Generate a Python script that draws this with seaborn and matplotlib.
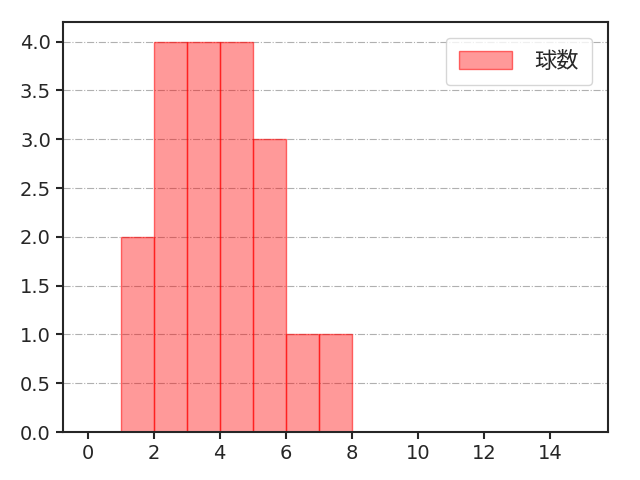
import numpy as np
import pandas as pd
import matplotlib
matplotlib.use("Agg")
import matplotlib.pyplot as plt
import seaborn as sns

sns.set_style("ticks")
plt.rcParams['font.family'] = ['DejaVu Sans', 'Noto Sans CJK JP']

# 球数 (one value per pitch count observation)
pitch_counts = [1, 1, 2, 2, 2, 2, 3, 3, 3, 3, 4, 4, 4, 4, 5, 5, 5, 6, 7]
bin_edges = list(range(0, 16))

df = pd.DataFrame({"球数": pitch_counts})

fig, ax = plt.subplots(figsize=(6.4, 4.8), dpi=100)
sns.histplot(data=df, x="球数", bins=bin_edges, color="red", alpha=0.4,
             edgecolor=(1, 0, 0, 0.55), linewidth=1, label="球数", ax=ax, zorder=2)
ax.grid(axis="y", linestyle="-.", color="#b0b0b0", linewidth=0.8, zorder=0)
ax.set_axisbelow(True)
ax.set_xticks(range(0, 16, 2))
ax.set_xlabel("")
ax.set_ylabel("")
ax.set_ylim(0, 4.2)
ax.tick_params(labelsize=14, width=1.5, length=5)
for s in ax.spines.values():
    s.set_linewidth(1.5)
ax.legend(loc="upper right", fontsize=16, handlelength=2.4, handleheight=0.85,
          borderpad=0.6, borderaxespad=0.7, handletextpad=1.0)
fig.subplots_adjust(left=0.098, right=0.95, top=0.954, bottom=0.1)
plt.savefig("out.png")
